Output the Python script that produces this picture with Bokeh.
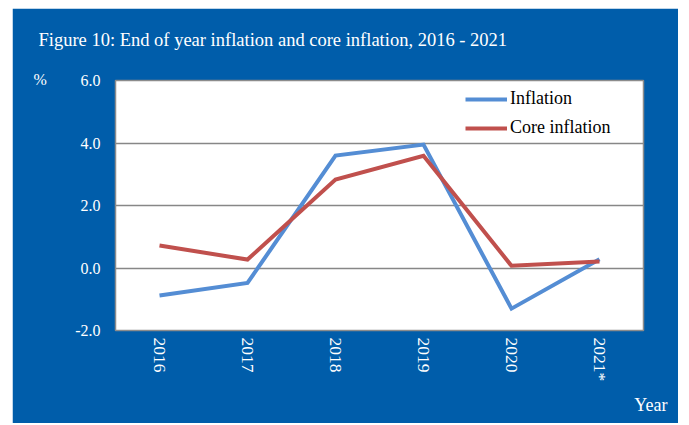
from bokeh.plotting import figure
from bokeh.models import FactorRange, Range1d, FixedTicker, Legend, LegendItem, Title
from bokeh.embed import file_html
from bokeh.resources import INLINE

years = ["2016", "2017", "2018", "2019", "2020", "2021*"]
inflation = [-0.88, -0.48, 3.60, 3.95, -1.30, 0.28]
core_inflation = [0.72, 0.27, 2.83, 3.59, 0.07, 0.21]
y_ticks = [-2.0, 0.0, 2.0, 4.0, 6.0]
title_text = "Figure 10: End of year inflation and core inflation, 2016 - 2021"

BG = "#005DAA"
FONT = "Liberation Serif"

p = figure(width=666, height=415, x_range=FactorRange(*years), y_range=Range1d(-2, 6),
           output_backend="svg", toolbar_location=None,
           min_border_left=103, min_border_right=35, min_border_top=72, min_border_bottom=93,
           margin=(8, 0, 0, 12))
p.background_fill_color = "white"
p.border_fill_color = BG
p.outline_line_color = "#8c8c8c"
p.outline_line_width = 1.5

r1 = p.line(years, inflation, line_color="#548DD4", line_width=4, line_join="miter")
r2 = p.line(years, core_inflation, line_color="#C0504D", line_width=4, line_join="miter")

p.xgrid.grid_line_color = None
p.ygrid.grid_line_color = "#878787"
p.ygrid.grid_line_width = 1.3
p.yaxis.ticker = FixedTicker(ticks=y_ticks)
p.yaxis.major_label_overrides = {t: f"{t:.1f}" for t in y_ticks}
for ax in (p.xaxis[0], p.yaxis[0]):
    ax.axis_line_color = None
    ax.major_tick_line_color = None
    ax.minor_tick_line_color = None
    ax.major_tick_in = 0
    ax.major_tick_out = 0
    ax.major_label_text_color = "white"
    ax.major_label_text_font = FONT
p.yaxis.major_label_text_font_size = "16px"
p.xaxis.major_label_text_font_size = "17.5px"
p.yaxis.major_label_standoff = 15
p.xaxis.major_label_orientation = "vertical"
p.xaxis.major_label_standoff = 7

legend = Legend(items=[LegendItem(label="Inflation", renderers=[r1]),
                       LegendItem(label="Core inflation", renderers=[r2])],
                location=(350, 192), glyph_width=42, glyph_height=20, label_height=20,
                spacing=8, padding=0, margin=0, label_standoff=3,
                border_line_color=None, background_fill_alpha=0,
                label_text_font=FONT, label_text_font_size="18px", label_text_color="black")
p.add_layout(legend, "center")

# above panel, stacked outward from the plot frame
p.add_layout(Title(text="%", align="left", offset=-82, standoff=-15, text_color="white",
                   text_font=FONT, text_font_size="16px", text_font_style="normal"), "above")
p.add_layout(Title(text=" ", align="left", standoff=14, text_color="white",
                   text_font=FONT, text_font_size="10px", text_font_style="normal"), "above")
p.add_layout(Title(text=title_text, align="left", offset=-77, standoff=0, text_color="white",
                   text_font=FONT, text_font_size="18.5px", text_font_style="normal"), "above")
p.add_layout(Title(text="Year", align="right", offset=-24, standoff=16, text_color="white",
                   text_font=FONT, text_font_size="18px", text_font_style="normal"), "below")

open("out.html", "w").write(file_html(p, INLINE))
